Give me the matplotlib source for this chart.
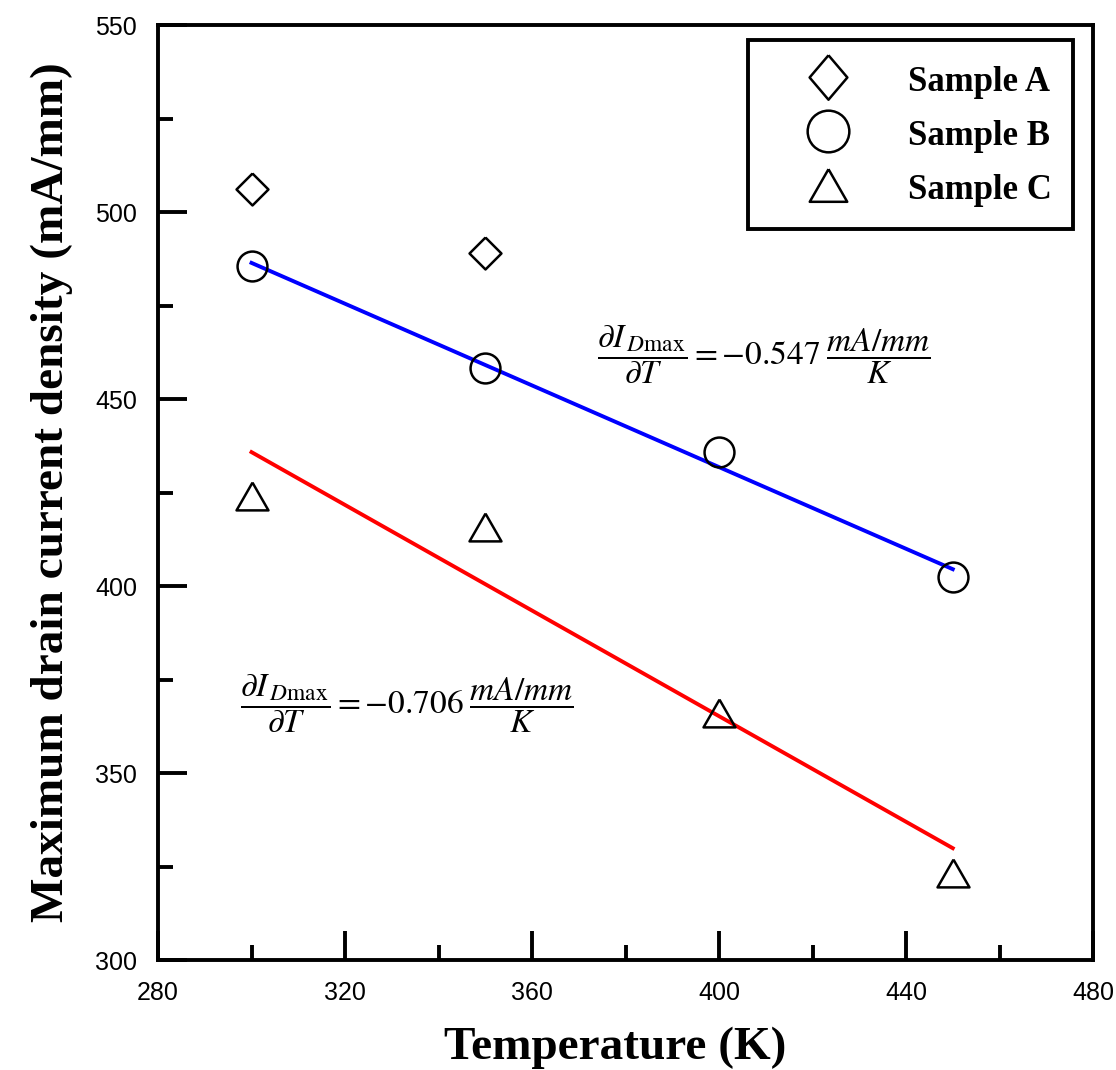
# Max drain current density vs temperature, three samples + linear fits

import numpy as np
from matplotlib import pyplot as plt
from matplotlib.lines import Line2D

# data
temp_a = [300, 350]
ida_a = [506.2, 489.0]

temp_b = [300, 350, 400, 450]
ida_b = [485.6, 458.3, 435.8, 402.4]

temp_c = [300, 350, 400, 450]
ida_c = [424.0, 415.8, 366.0, 323.3]

# fitted lines (endpoints)
fit_x = [300, 450]
fit_b = [486.4, 404.5]
fit_c = [435.8, 329.9]

labels = ["Sample A", "Sample B", "Sample C"]

plt.rcParams["mathtext.fontset"] = "stix"
plt.rcParams["font.family"] = "Liberation Sans"

diamond = [(0, 1), (1, 0), (0, -1), (-1, 0), (0, 1)]
tall_diamond = [(0, 1), (0.85, 0), (0, -1), (-0.85, 0), (0, 1)]
tri = [(0, 0.87), (1, -0.87), (-1, -0.87), (0, 0.87)]

fig = plt.figure(figsize=[11.16, 10.70], dpi=100)
ax = fig.add_axes([0.1416, 0.1028, 0.8378, 0.8738])

ax.plot(fit_x, fit_b, color="blue", lw=2.8, zorder=2)
ax.plot(fit_x, fit_c, color="red", lw=2.8, zorder=2)

ax.plot(temp_a, ida_a, ls="none", marker=diamond, ms=23, mfc="white", mec="black", mew=1.8, zorder=3)
ax.plot(temp_b, ida_b, ls="none", marker="o", ms=21.5, mfc="none", mec="black", mew=1.8, zorder=3)
ax.plot(temp_c, ida_c, ls="none", marker=tri, ms=23, mfc="none", mec="black", mew=1.8, zorder=3)

ax.text(409.5, 461.8, r"$\dfrac{\partial I_{\,D\mathrm{max}}}{\partial T} = -0.547\;\dfrac{mA/mm}{K}$",
        fontsize=24, ha="center", va="center")
ax.text(333.3, 368.7, r"$\dfrac{\partial I_{\,D\mathrm{max}}}{\partial T} = -0.706\;\dfrac{mA/mm}{K}$",
        fontsize=24, ha="center", va="center",
        bbox=dict(facecolor="white", edgecolor="none", pad=6))

ax.set_xlim(280, 480)
ax.set_ylim(300, 550)
ax.set_xticks(np.arange(280, 481, 40))
ax.set_xticks(np.arange(300, 480, 40), minor=True)
ax.set_yticks(np.arange(300, 551, 50))
ax.set_yticks(np.arange(325, 550, 50), minor=True)
ax.tick_params(which="both", direction="in", width=2.8, labelsize=18, top=False, right=False)
ax.tick_params(which="major", length=21, pad=15)
ax.tick_params(which="minor", length=11)
for s in ax.spines.values():
    s.set_linewidth(2.8)

ax.set_xlabel("Temperature (K)", family="Liberation Serif", weight="bold", fontsize=34)
ax.xaxis.set_label_coords((615 - 158) / 935, -0.071)
ax.set_ylabel("Maximum drain current density (mA/mm)", family="Liberation Serif", weight="bold", fontsize=34, labelpad=16)

# legend markers are drawn bigger than the data markers
handles = [
    Line2D([], [], ls="none", marker=tall_diamond, ms=32, mfc="white", mec="black", mew=1.8),
    Line2D([], [], ls="none", marker="o", ms=30, mfc="none", mec="black", mew=1.8),
    Line2D([], [], ls="none", marker=tri, ms=27, mfc="none", mec="black", mew=1.8),
]
leg = ax.legend(handles, labels, loc="upper right", bbox_to_anchor=(0.979, 0.984), borderaxespad=0,
                prop={"family": "Liberation Serif", "weight": "bold", "size": 25},
                fancybox=False, edgecolor="black", framealpha=1,
                handletextpad=0.58, borderpad=0.63, labelspacing=0.475, handlelength=3.4,
                handleheight=1.2)
leg.get_frame().set_linewidth(2.8)

plt.savefig("out.png", dpi=100)
